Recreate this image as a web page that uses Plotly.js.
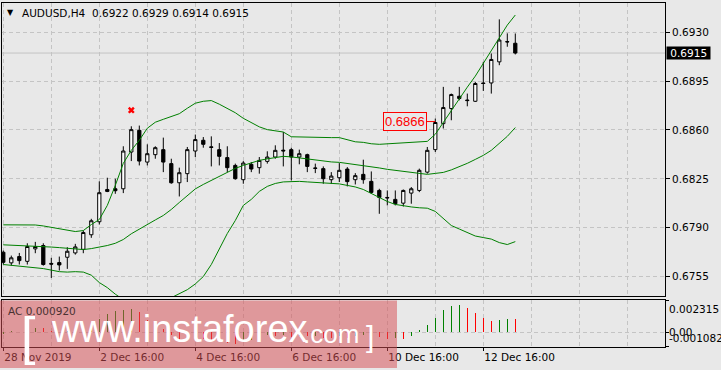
<!DOCTYPE html>
<html>
<head>
<meta charset="utf-8">
<script src="https://cdn.plot.ly/plotly-3.0.1.min.js"></script>
<style>
  html, body { margin: 0; padding: 0; background: #E8E8E8; }
  #chart { width: 721px; height: 370px; }
</style>
</head>
<body>
<div id="chart"></div>
<script>
// ---------------- DATA ----------------
const symbolName = 'AUDUSD,H4';
const tickIdx = [0, 12, 24, 36, 48, 60];
const tickLabels = ['28 Nov 2019', '2 Dec 16:00', '4 Dec 16:00', '6 Dec 16:00', '10 Dec 16:00', '12 Dec 16:00'];
const priceTicks = [0.6755, 0.6790, 0.6825, 0.6860, 0.6895, 0.6930];

const opens = [0.67725,0.67649,0.67694,0.67660,0.67749,0.67773,0.67645,0.67651,0.67689,0.67720,
  0.67746,0.67850,0.67943,0.68174,0.68179,0.68179,0.68442,0.68597,0.68370,0.68423,
  0.68459,0.68359,0.68222,0.68287,0.68449,0.68526,0.68479,0.68459,0.68402,0.68346,
  0.68244,0.68354,0.68330,0.68375,0.68406,0.68455,0.68459,0.68406,0.68423,0.68328,
  0.68323,0.68244,0.68258,0.68320,0.68244,0.68282,0.68232,0.68167,0.68117,0.68103,
  0.68076,0.68148,0.68167,0.68298,0.68459,0.68645,0.68753,0.68841,0.68814,0.68805,
  0.68936,0.68936,0.69087,0.69232,0.6922];
const highs = [0.67737,0.67701,0.67720,0.67789,0.67799,0.67789,0.67685,0.67694,0.67761,0.67785,
  0.67880,0.67964,0.68232,0.68258,0.68251,0.68483,0.68626,0.68631,0.68497,0.68483,
  0.68545,0.68394,0.68330,0.68478,0.68567,0.68549,0.68554,0.68506,0.68483,0.68359,
  0.68377,0.68370,0.68406,0.68447,0.68490,0.68585,0.68473,0.68459,0.68430,0.68359,
  0.68339,0.68298,0.68363,0.68334,0.68291,0.68387,0.68303,0.68179,0.68167,0.68167,
  0.68174,0.68191,0.68323,0.68478,0.68681,0.68908,0.68860,0.68908,0.68860,0.68944,
  0.69087,0.69147,0.69391,0.69291,0.6929];
const lows = [0.67637,0.67629,0.67637,0.67637,0.67718,0.67629,0.67541,0.67594,0.67606,0.67708,
  0.67718,0.67828,0.67923,0.68155,0.68143,0.68148,0.68377,0.68346,0.68346,0.68394,
  0.68298,0.68215,0.68124,0.68227,0.68406,0.68473,0.68339,0.68346,0.68298,0.68244,
  0.68215,0.68298,0.68287,0.68359,0.68394,0.68339,0.68239,0.68354,0.68298,0.68291,
  0.68215,0.68215,0.68227,0.68196,0.68210,0.68215,0.68143,0.68000,0.68060,0.68060,
  0.68052,0.68072,0.68155,0.68287,0.68442,0.68610,0.68669,0.68812,0.68769,0.68800,
  0.68879,0.68860,0.69063,0.69195,0.6914];
const closes = [0.67653,0.67685,0.67665,0.67766,0.67766,0.67637,0.67640,0.67634,0.67732,0.67763,
  0.67866,0.67950,0.68151,0.68160,0.68165,0.68449,0.68602,0.68377,0.68430,0.68473,
  0.68370,0.68222,0.68294,0.68459,0.68531,0.68497,0.68475,0.68411,0.68330,0.68251,
  0.68363,0.68320,0.68382,0.68406,0.68454,0.68450,0.68406,0.68430,0.68339,0.68325,
  0.68251,0.68270,0.68311,0.68230,0.68273,0.68244,0.68153,0.68117,0.68114,0.68072,
  0.68167,0.68179,0.68311,0.68454,0.68653,0.68760,0.68853,0.68825,0.68810,0.68932,
  0.68932,0.69104,0.69243,0.69230,0.6915];

const bbUpper = [0.67921,0.67921,0.67921,0.67920,0.67920,0.67913,0.67902,0.67893,0.67884,0.67873,
  0.67880,0.67923,0.67959,0.68060,0.68203,0.68361,0.68454,0.68526,0.68612,0.68655,
  0.68676,0.68698,0.68716,0.68755,0.68791,0.68805,0.68810,0.68784,0.68751,0.68723,
  0.68683,0.68651,0.68622,0.68602,0.68594,0.68585,0.68551,0.68549,0.68549,0.68549,
  0.68547,0.68545,0.68545,0.68529,0.68515,0.68511,0.68501,0.68497,0.68501,0.68504,
  0.68508,0.68511,0.68515,0.68518,0.68569,0.68655,0.68741,0.68820,0.68906,0.68985,
  0.69078,0.69171,0.69257,0.69350,0.69422];
const bbMiddle = [0.67778,0.67776,0.67773,0.67770,0.67767,0.67765,0.67762,0.67758,0.67753,0.67748,
  0.67744,0.67751,0.67761,0.67773,0.67789,0.67816,0.67857,0.67891,0.67927,0.67956,
  0.67988,0.68031,0.68081,0.68131,0.68178,0.68210,0.68239,0.68268,0.68296,0.68325,
  0.68346,0.68364,0.68382,0.68393,0.68404,0.68411,0.68407,0.68400,0.68389,0.68382,
  0.68377,0.68371,0.68368,0.68361,0.68354,0.68343,0.68336,0.68328,0.68318,0.68311,
  0.68303,0.68296,0.68289,0.68282,0.68289,0.68296,0.68314,0.68336,0.68361,0.68389,
  0.68418,0.68454,0.68501,0.68554,0.68617];
const bbLower = [0.67637,0.67631,0.67626,0.67621,0.67615,0.67608,0.67597,0.67586,0.67583,0.67586,
  0.67583,0.67561,0.67508,0.67472,0.67425,0.67386,0.67357,0.67343,0.67343,0.67350,
  0.67371,0.67400,0.67429,0.67457,0.67498,0.67551,0.67637,0.67751,0.67859,0.67952,
  0.68060,0.68103,0.68160,0.68196,0.68217,0.68228,0.68232,0.68232,0.68228,0.68225,
  0.68221,0.68219,0.68214,0.68203,0.68192,0.68174,0.68146,0.68117,0.68088,0.68067,
  0.68056,0.68049,0.68043,0.68040,0.68017,0.67966,0.67916,0.67891,0.67866,0.67841,
  0.67830,0.67819,0.67794,0.67780,0.67801];

const acValues = [-0.00012,0.00004,0.00002,0.00018,0.00028,0.00026,0.00010,0.00003,0.00006,0.00012,
  0.00020,0.00041,0.00097,0.00133,0.00152,0.00162,0.00169,0.00145,0.00085,0.00073,
  0.00024,-0.00024,-0.00073,-0.00050,-0.00030,-0.00048,-0.00060,-0.00070,-0.00080,-0.00090,
  -0.00075,-0.00060,-0.00045,-0.00020,-0.00031,-0.00025,-0.00035,-0.00030,-0.00031,-0.00028,
  -0.00040,-0.00045,-0.00030,-0.00040,-0.00031,-0.00020,-0.00028,-0.00036,-0.00050,-0.00046,
  -0.00049,-0.00031,0.00012,0.00048,0.00104,0.00162,0.00189,0.00198,0.00174,0.00140,
  0.00100,0.00078,0.00085,0.00095,0.00092];
const acMax = 0.002315;
const acMin = -0.001082;

const signalIdx = [16];
const signalPrice = [0.68741];
const levelIdx = 54;
const levelPrice = 0.6866;

// ---------------- BUILD ----------------
const idx = opens.map((_, i) => i);
const lastClose = closes[closes.length - 1];
const n = opens.length - 1;
const acColors = acValues.map((v, i) => (i === 0 || v > acValues[i - 1]) ? '#008000' : '#FF0000');

const bg = '#E8E8E8';
const gridCol = '#C4C4C4';
const axFont = { family: 'DejaVu Sans', size: 10.5, color: '#000000' };
const pxX = p => (p - 2) / 663;
const pxY = p => (347 - p) / 344;

const traces = [
  { type: 'scatter', mode: 'lines', x: idx, y: bbUpper, xaxis: 'x', yaxis: 'y',
    line: { color: '#008000', width: 1 }, hoverinfo: 'skip' },
  { type: 'scatter', mode: 'lines', x: idx, y: bbMiddle, xaxis: 'x', yaxis: 'y',
    line: { color: '#008000', width: 1 }, hoverinfo: 'skip' },
  { type: 'scatter', mode: 'lines', x: idx, y: bbLower, xaxis: 'x', yaxis: 'y',
    line: { color: '#008000', width: 1 }, hoverinfo: 'skip' },
  { type: 'candlestick', x: idx, open: opens, high: highs, low: lows, close: closes,
    xaxis: 'x', yaxis: 'y', whiskerwidth: 0,
    increasing: { line: { color: '#000000', width: 1 }, fillcolor: '#FFFFFF' },
    decreasing: { line: { color: '#000000', width: 1 }, fillcolor: '#000000' } },
  { type: 'scatter', mode: 'markers', x: signalIdx, y: signalPrice, xaxis: 'x', yaxis: 'y',
    marker: { symbol: 'x', size: 6, color: '#FF0000' } },
  { type: 'bar', x: idx, y: acValues, xaxis: 'x2', yaxis: 'y2', width: 0.14,
    marker: { color: acColors, line: { width: 0 } } }
];

const xCommon = {
  range: [-0.1625, 82.7125], showline: true, mirror: true, linecolor: '#000000', linewidth: 1,
  showgrid: true, gridcolor: gridCol, griddash: '4px,3px', gridwidth: 1,
  tickmode: 'array', tickvals: tickIdx, zeroline: false,
  minor: { tickmode: 'linear', tick0: 0, dtick: 6, showgrid: true, gridcolor: gridCol, griddash: '4px,3px', ticklen: 0 },
  fixedrange: true
};

const layout = {
  width: 721, height: 370,
  margin: { l: 2, r: 56, t: 3, b: 23, pad: 0 },
  paper_bgcolor: bg, plot_bgcolor: bg,
  showlegend: false, boxgap: 0.42, bargap: 0,
  xaxis: Object.assign({}, xCommon, { anchor: 'y', domain: [0, 1], showticklabels: false, ticks: '', rangeslider: { visible: false } }),
  xaxis2: Object.assign({}, xCommon, { anchor: 'y2', domain: [0, 1], matches: 'x', showticklabels: true,
    ticktext: tickLabels, ticks: 'outside', ticklen: 3, tickcolor: '#000000',
    ticklabelposition: 'outside right', tickfont: axFont, rangeslider: { visible: false } }),
  yaxis: { domain: [0.1483, 1], range: [0.67412, 0.69508], side: 'right', anchor: 'x',
    showline: true, mirror: true, linecolor: '#000000', linewidth: 1,
    tickmode: 'array', tickvals: priceTicks, ticktext: priceTicks.map(v => v.toFixed(4)),
    ticks: 'outside', ticklen: 4, tickcolor: '#000000', tickfont: axFont,
    showgrid: true, gridcolor: gridCol, griddash: '4px,3px', zeroline: false, fixedrange: true },
  yaxis2: { domain: [0, 0.1366], range: [acMin, acMax], side: 'right', anchor: 'x2',
    showline: true, mirror: true, linecolor: '#000000', linewidth: 1,
    tickmode: 'array', tickvals: [acMax, 0, acMin], showticklabels: false,
    ticks: 'outside', ticklen: 3, tickcolor: '#000000',
    showgrid: true, gridcolor: gridCol, griddash: '4px,3px', zeroline: false, fixedrange: true },
  shapes: [
    { type: 'line', xref: 'paper', yref: 'y', x0: 0, x1: 1, y0: lastClose, y1: lastClose,
      line: { color: '#C4C4C4', width: 1 }, layer: 'below' },
    { type: 'rect', xref: 'paper', yref: 'paper', x0: pxX(0), x1: pxX(397), y0: pxY(368), y1: pxY(300.5),
      fillcolor: 'rgba(214,78,84,0.52)', line: { width: 0 }, layer: 'above' }
  ],
  annotations: [
    { xref: 'paper', yref: 'paper', x: pxX(10.5), y: pxY(12.5), text: '\u25BC', showarrow: false,
      xanchor: 'center', yanchor: 'middle', font: { family: 'DejaVu Sans', size: 8, color: '#000000' } },
    { xref: 'paper', yref: 'paper', x: pxX(20), y: pxY(12.5), showarrow: false, xanchor: 'left', yanchor: 'middle',
      text: symbolName + '\u00a0\u00a0' + [opens[n], highs[n], lows[n], closes[n]].map(v => v.toFixed(4)).join(' '),
      font: axFont },
    { xref: 'paper', yref: 'y', x: 1, y: lastClose, xanchor: 'left', yanchor: 'middle', xshift: 1, showarrow: false,
      text: '\u00a0' + lastClose.toFixed(4) + '\u00a0', bgcolor: '#000000', borderpad: 0,
      font: { family: 'DejaVu Sans', size: 10.5, color: '#FFFFFF' } },
    { xref: 'x', yref: 'y', x: levelIdx, y: levelPrice, text: levelPrice.toFixed(4), showarrow: true,
      arrowhead: 0, arrowwidth: 1, arrowcolor: '#FF0000', ax: -30, ay: 0, standoff: 0,
      bordercolor: '#FF0000', borderwidth: 1, borderpad: 1, bgcolor: bg,
      font: { family: 'Liberation Sans', size: 13, color: '#FF0000' } },
    { xref: 'paper', yref: 'y2', x: 1, y: acMax, xanchor: 'left', yanchor: 'top', xshift: 2, yshift: -1, showarrow: false,
      text: acMax.toFixed(6), font: axFont },
    { xref: 'paper', yref: 'y2', x: 1, y: 0, xanchor: 'left', yanchor: 'middle', xshift: 2, showarrow: false,
      text: '0.00', font: axFont },
    { xref: 'paper', yref: 'y2', x: 1, y: acMin, xanchor: 'left', yanchor: 'bottom', xshift: 2, yshift: 1, showarrow: false,
      text: acMin.toFixed(6), font: axFont },
    { xref: 'paper', yref: 'paper', x: pxX(6), y: pxY(310.5), xanchor: 'left', yanchor: 'middle', showarrow: false,
      text: 'AC ' + acValues[n].toFixed(6), font: { family: 'DejaVu Sans', size: 10.5, color: '#4A3232' } },
    // watermark
    { xref: 'paper', yref: 'paper', x: pxX(28.5), y: pxY(336), xanchor: 'center', yanchor: 'middle', showarrow: false,
      text: '[', font: { family: 'Liberation Sans', size: 52, color: '#FFFFFF' } },
    { xref: 'paper', yref: 'paper', x: pxX(49), y: pxY(329), xanchor: 'left', yanchor: 'middle', showarrow: false,
      text: 'www.instaforex', font: { family: 'Liberation Sans', size: 38, color: '#FFFFFF' } },
    { xref: 'paper', yref: 'paper', x: pxX(301), y: pxY(333.5), xanchor: 'left', yanchor: 'middle', showarrow: false,
      text: '.com', font: { family: 'Liberation Sans', size: 26, color: '#FFFFFF' } },
    { xref: 'paper', yref: 'paper', x: pxX(370), y: pxY(336), xanchor: 'center', yanchor: 'middle', showarrow: false,
      text: ']', font: { family: 'Liberation Sans', size: 30, color: '#FFFFFF' } }
  ]
};

Plotly.newPlot('chart', traces, layout, { staticPlot: true, displayModeBar: false });
</script>
</body>
</html>
